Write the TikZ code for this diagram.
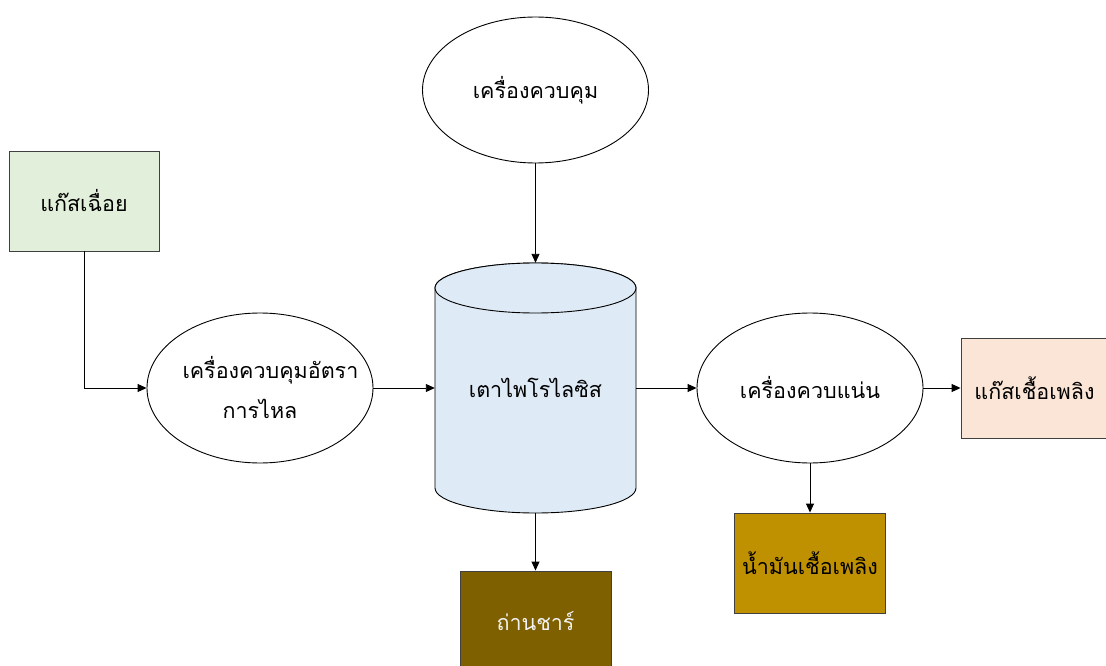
\documentclass[tikz,border=0pt]{standalone}
\usepackage{fontspec}
\newfontfamily\thaifont[Script=Thai]{Loma}
\usetikzlibrary{shapes.geometric,arrows.meta}

\definecolor{inertgreen}{HTML}{E2EFDA}
\definecolor{furnaceblue}{HTML}{DEEBF7}
\definecolor{gaspeach}{HTML}{FBE5D6}
\definecolor{oilgold}{HTML}{BF9000}
\definecolor{charbrown}{HTML}{7F6000}

\begin{document}
\begin{tikzpicture}[x=1pt,y=-1pt,
  every node/.style={font=\thaifont\fontsize{21.5}{40}\selectfont, inner sep=0pt},
  proc/.style={ellipse, draw, line width=0.9pt, minimum width=226pt,
    minimum height=150pt, align=center},
  store/.style={rectangle, draw=black!75, line width=0.9pt,
    minimum width=151pt, minimum height=100pt},
  flow/.style={line width=0.9pt, -{Triangle[length=9pt,width=8pt]}}]
\useasboundingbox (0,0) rectangle (1106,666);

% pyrolysis reactor drawn as a cylinder
\draw[line width=0.9pt, fill=furnaceblue]
  (435,288) -- (435,488)
  arc[start angle=180, end angle=0, x radius=100.5, y radius=25]
  -- (636,288)
  arc[start angle=0, end angle=-180, x radius=100.5, y radius=25] -- cycle;
\draw[line width=0.9pt, fill=furnaceblue] (535.5,288) ellipse[x radius=100.5, y radius=25];

\node[minimum width=201pt, minimum height=250pt] (furnace) at (535.5,388) {เตาไพโรไลซิส};

\node[proc, minimum height=146pt] (ctrl) at (535.5,90) {เครื่องควบคุม};
\node[store, fill=inertgreen, minimum width=150pt] (inert) at (84,201) {แก๊สเฉื่อย};
\node[proc, text width=155pt] (flowctl) at (260,388) {เครื่องควบคุมอัตรา\\การไหล};
\node[proc] (cond) at (810,388) {เครื่องควบแน่น};
\node[store, fill=gaspeach, minimum width=147pt] (gas) at (1034.5,388) {แก๊สเชื้อเพลิง};
\node[store, fill=oilgold] (oil) at (810,563) {น้ำมันเชื้อเพลิง};
\node[store, fill=charbrown, text=white!95!black] (char) at (535.5,621) {ถ่านชาร์};

\draw[flow] (ctrl.south) -- (furnace.north);
\draw[flow] (inert.south) |- (flowctl.west);
\draw[flow] (flowctl.east) -- (furnace.west);
\draw[flow] (furnace.east) -- (cond.west);
\draw[flow] (cond.east) -- (gas.west);
\draw[flow] (cond.south) -- (oil.north);
\draw[flow] (furnace.south) -- (char.north);
\end{tikzpicture}
\end{document}
